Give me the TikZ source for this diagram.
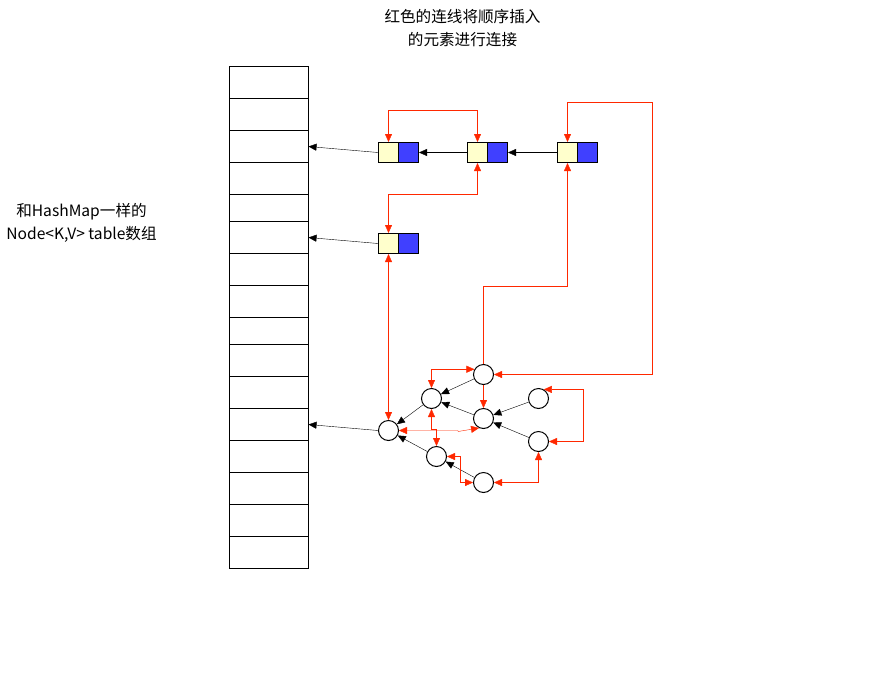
\documentclass[tikz,border=0pt]{standalone}
\usepackage{fontspec}
\setmainfont{Noto Sans CJK SC}
\usepackage{xcolor}
\definecolor{myred}{RGB}{255,40,0}
\definecolor{myblue}{RGB}{64,64,255}
\definecolor{myyellow}{RGB}{255,255,204}
\usetikzlibrary{arrows.meta}
\usetikzlibrary{backgrounds}

\begin{document}
\begin{tikzpicture}[x=1pt,y=-1pt,line width=1pt,>={Triangle[length=8pt,width=7pt]}]
	\tikzstyle{cell}=[draw,anchor=north west,minimum width=79pt,inner sep=0pt,outer sep=0pt];
	\tikzstyle{keybox}=[draw,fill=myyellow,minimum size=20pt,inner sep=0pt];
	\tikzstyle{valbox}=[draw,fill=myblue,minimum size=20pt,inner sep=0pt];
	\tikzstyle{tn}=[draw,circle,fill=white,minimum size=20pt,inner sep=0pt];
	\tikzstyle{link}=[myred,<->];
	\tikzstyle{txt}=[align=center,font=\fontsize{15.6}{23}\selectfont];
	\useasboundingbox (0,0) rectangle (888,694);
	\begin{scope}[shift={(0.5,0.5)}]
	%% table
	\foreach \i/\y/\h in {1/66/32,2/98/32,3/130/32,4/162/32,5/194/27,6/221/32,7/253/32,8/285/32,
		9/317/27,10/344/32,11/376/32,12/408/32,13/440/32,14/472/32,15/504/32,16/536/32}
		\node[cell,minimum height=\h pt] (row\i) at (229,\y) {};
	%% list entries
	\node[keybox] (K1) at (388,152) {};
	\node[valbox] (V1) at (408,152) {};
	\node[keybox] (K2) at (477,152) {};
	\node[valbox] (V2) at (497,152) {};
	\node[keybox] (K3) at (567,152) {};
	\node[valbox] (V3) at (587,152) {};
	\node[keybox] (K4) at (388,243) {};
	\node[valbox] (V4) at (408,243) {};
	%% tree nodes
	\node[tn] (R)   at (388,430) {};
	\node[tn] (A)   at (431,398) {};
	\node[tn] (B)   at (436,456) {};
	\node[tn] (AA)  at (483,374) {};
	\node[tn] (AB)  at (483,418) {};
	\node[tn] (BR)  at (483,482) {};
	\node[tn] (ABA) at (538,398) {};
	\node[tn] (ABB) at (538,441) {};
	%% texts
	\node[txt] (title) at (462,28) {红色的连线将顺序插入\\的元素进行连接};
	\node[txt] (label) at (81,222) {和HashMap一样的\\Node<K,V> table数组};
	%%
	\begin{scope}[on background layer]
		\draw[->] (K1.west) -- (row3.east);
		\draw[->] (K2.west) -- (V1.east);
		\draw[->] (K3.west) -- (V2.east);
		\draw[->] (K4.west) -- (row6.east);
		\draw[->] (R.west) -- (row12.east);
		\draw[->] (AA) -- (A);
		\draw[->] (AB) -- (A);
		\draw[->] (A) -- (R);
		\draw[->] (B) -- (R);
		\draw[->] (BR) -- (B);
		\draw[->] (ABA) -- (AB);
		\draw[->] (ABB) -- (AB);
		%% insertion order
		\draw[link] (K1.north) -- ++(0,-32) -| (K2.north);
		\draw[link] (K4.north) -- ++(0,-39) -| (K2.south);
		\draw[link] (K4.south) -- (R.north);
		\draw[link] (R.east) -- ++(59,0) -- ++(0,1) -- (AB.-115);
		\draw[link] (K3.south) -- ++(0,123) -| (AB.north);
		\draw[link] (K3.north) |- (652,102) |- (AA.east);
		\draw[link] (A.north) |- (AA.150);
		\draw[link] (A.south) -- ++(0,20) -| (B.north);
		\draw[link] (B.east) -- ++(13,0) |- (BR.west);
		\draw[link] (BR.east) -| (ABB.south);
		\draw[link] (ABB.east) -- ++(34,0) |- (ABA.60);
	\end{scope}
	\end{scope}
\end{tikzpicture}
\end{document}
